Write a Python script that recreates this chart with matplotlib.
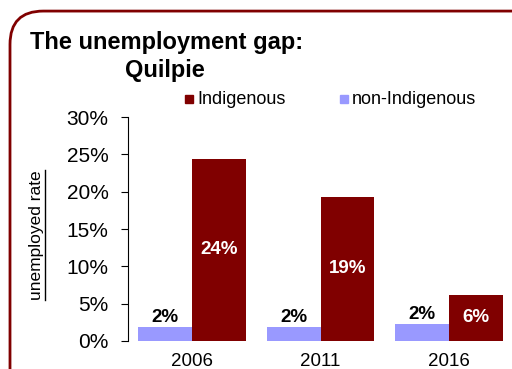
import matplotlib.pyplot as plt
import numpy as np
from matplotlib.patches import FancyBboxPatch

years = ["2006", "2011", "2016"]
indigenous = [24.4, 19.3, 6.2]
non_indigenous = [1.9, 1.9, 2.3]
indigenous_labels = ["24%", "19%", "6%"]
non_indigenous_labels = ["2%", "2%", "2%"]

DARK_RED = "#800000"
LILAC = "#9999ff"

plt.rcParams["font.family"] = ["Liberation Sans", "DejaVu Sans"]

fig = plt.figure(figsize=(5.12, 3.69), dpi=100)

# rounded frame around the whole chart
frame = FancyBboxPatch((10 / 512, -0.2), 1.1, 1.17, boxstyle="round,pad=0,rounding_size=0.065",
                       transform=fig.transFigure, fill=False, edgecolor=DARK_RED, linewidth=2,
                       mutation_aspect=512 / 369)
fig.patches.append(frame)

ax = fig.add_axes([128 / 512, 1 - 341 / 369, (513 - 128) / 512, (341 - 117) / 369])
x = np.arange(len(years))
w = 0.42
ax.bar(x - w / 2, non_indigenous, w, color=LILAC, label="non-Indigenous")
ax.bar(x + w / 2, indigenous, w, color=DARK_RED, label="Indigenous")

for xi, v, lab in zip(x, indigenous, indigenous_labels):
    ax.text(xi + w / 2, v / 2, lab, ha="center", va="center", color="white",
            fontsize=13.5, fontweight="bold")
for xi, v, lab in zip(x, non_indigenous, non_indigenous_labels):
    ax.text(xi - w / 2, v + 0.15, lab, ha="center", va="bottom", color="black",
            fontsize=13.5, fontweight="bold")

ax.set_xlim(-0.5, 2.5)
ax.set_ylim(0, 30)
ax.set_yticks(range(0, 31, 5))
ax.set_yticklabels([f"{t}%" for t in range(0, 31, 5)], fontsize=15)
ax.set_xticks(x)
ax.set_xticklabels(years, fontsize=13.5)
ax.tick_params(axis="x", length=0, pad=8.5)
ax.tick_params(axis="y", length=5, direction="out", width=0.8, pad=9)
for s in ["top", "right", "bottom"]:
    ax.spines[s].set_visible(False)

# y-axis label with an underline drawn beside it
fig.text(37 / 512, 1 - 235 / 369, "unemployed rate", rotation=90, ha="center", va="center",
         fontsize=12.5)
fig.add_artist(plt.Line2D([45 / 512, 45 / 512], [1 - 300 / 369, 1 - 170 / 369],
                          transform=fig.transFigure, color="black", linewidth=1))

fig.text(30 / 512, 1 - 42 / 369, "The unemployment gap:", fontsize=17, fontweight="bold",
         ha="left", va="center")
fig.text(165 / 512, 1 - 70 / 369, "Quilpie", fontsize=17, fontweight="bold",
         ha="center", va="center")

# legend entries
legend_items = [("Indigenous", DARK_RED, 185), ("non-Indigenous", LILAC, 340)]
for name, col, px in legend_items:
    fig.patches.append(plt.Rectangle((px / 512, 1 - 103 / 369), 8 / 512, 8 / 369,
                                     transform=fig.transFigure, color=col))
    fig.text((px + 12) / 512, 1 - 99 / 369, name, fontsize=13,
             ha="left", va="center")

fig.savefig("out.png", dpi=100)
